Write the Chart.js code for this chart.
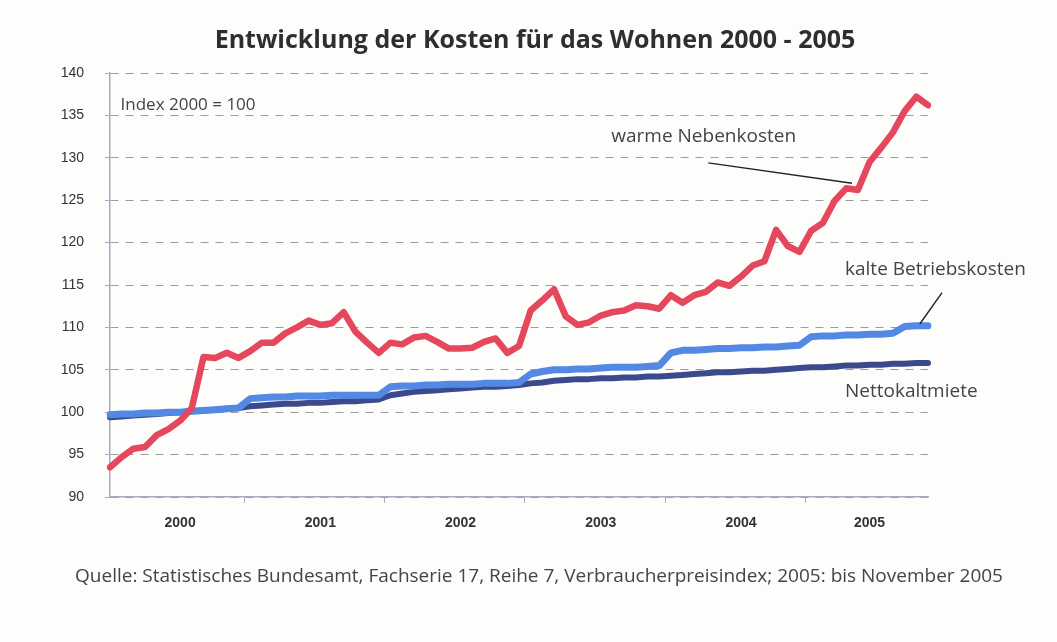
<!DOCTYPE html>
<html>
<head>
<meta charset="utf-8">
<title>Entwicklung der Kosten für das Wohnen 2000 - 2005</title>
<script src="https://cdn.jsdelivr.net/npm/chart.js@4.4.1/dist/chart.umd.min.js"></script>
<style>
html, body { margin: 0; padding: 0; background: #ffffff; }
#wrap { width: 1057px; height: 642px; }
</style>
</head>
<body>
<div id="wrap"><canvas id="myChart" width="1057" height="642"></canvas></div>
<script>
// monthly values, Jan 2000 - Nov 2005 (Index 2000 = 100)
const years = ["2000", "2001", "2002", "2003", "2004", "2005"];
const monthsPerYear = [12, 12, 12, 12, 12, 11];
const months = ["01", "02", "03", "04", "05", "06", "07", "08", "09", "10", "11", "12"];

const warmeNebenkosten = [
    93.5, 94.7, 95.7, 95.9, 97.3, 98.0, 99.0, 100.5, 106.5, 106.4, 107.0, 106.4,
    107.2, 108.2, 108.2, 109.3, 110.0, 110.8, 110.3, 110.5, 111.8, 109.5, 108.2, 107.0,
    108.2, 108.0, 108.8, 109.0, 108.3, 107.5, 107.5, 107.6, 108.3, 108.7, 107.0, 107.8,
    112.0, 113.2, 114.5, 111.3, 110.3, 110.6, 111.4, 111.8, 112.0, 112.6, 112.5, 112.2,
    113.8, 112.9, 113.8, 114.2, 115.3, 114.9, 116.0, 117.3, 117.8, 121.5, 119.6, 118.9,
    121.4, 122.3, 124.9, 126.4, 126.2, 129.5, 131.2, 133.0, 135.5, 137.2, 136.2
];
const kalteBetriebskosten = [
    99.7, 99.8, 99.8, 99.9, 99.9, 100.0, 100.0, 100.1, 100.2, 100.3, 100.4, 100.5,
    101.6, 101.7, 101.8, 101.8, 101.9, 101.9, 101.9, 102.0, 102.0, 102.0, 102.0, 102.0,
    103.0, 103.1, 103.1, 103.2, 103.2, 103.3, 103.3, 103.3, 103.4, 103.4, 103.4, 103.5,
    104.5, 104.8, 105.0, 105.0, 105.1, 105.1, 105.2, 105.3, 105.3, 105.3, 105.4, 105.5,
    107.0, 107.3, 107.3, 107.4, 107.5, 107.5, 107.6, 107.6, 107.7, 107.7, 107.8, 107.9,
    108.9, 109.0, 109.0, 109.1, 109.1, 109.2, 109.2, 109.3, 110.1, 110.2, 110.2
];
const nettokaltmiete = [
    99.4, 99.5, 99.6, 99.7, 99.8, 99.9, 100.0, 100.1, 100.2, 100.3, 100.4, 100.5,
    100.7, 100.8, 100.9, 101.0, 101.0, 101.1, 101.1, 101.2, 101.3, 101.3, 101.4, 101.5,
    102.0, 102.2, 102.4, 102.5, 102.6, 102.7, 102.8, 102.9, 103.0, 103.0, 103.1, 103.2,
    103.4, 103.5, 103.7, 103.8, 103.9, 103.9, 104.0, 104.0, 104.1, 104.1, 104.2, 104.2,
    104.3, 104.4, 104.5, 104.6, 104.7, 104.7, 104.8, 104.9, 104.9, 105.0, 105.1, 105.2,
    105.3, 105.3, 105.4, 105.5, 105.5, 105.6, 105.6, 105.7, 105.7, 105.8, 105.8
];

const yMin = 90;
const yMax = 140;
const yStep = 5;

const titleText = "Entwicklung der Kosten für das Wohnen 2000 - 2005";
const sourceText = "Quelle: Statistisches Bundesamt, Fachserie 17, Reihe 7, Verbraucherpreisindex; 2005: bis November 2005";

// build month labels + where each year label sits (middle of its months)
const labels = [];
const yearLabelAt = {};
years.forEach((y, k) => {
    yearLabelAt[labels.length + Math.floor(monthsPerYear[k] / 2)] = y;
    for (let m = 0; m < monthsPerYear[k]; m++) {
        labels.push(y + "-" + months[m]);
    }
});

const axisColor = "#a9a9bf";
const textFont = "'Open Sans', 'DejaVu Sans', sans-serif";

// title, source and the line annotations
const textPlugin = {
    id: "texts",
    beforeDraw(chart) {
        const ctx = chart.ctx;
        ctx.save();
        ctx.fillStyle = "#fdfdfb";
        ctx.fillRect(0, 0, chart.width, chart.height);
        ctx.restore();
    },
    afterDraw(chart) {
        const ctx = chart.ctx;
        const x = chart.scales.x;
        const y = chart.scales.y;
        const px = i => x.getPixelForValue(i);
        const py = v => y.getPixelForValue(v);

        ctx.save();
        ctx.textBaseline = "middle";

        ctx.fillStyle = "#2e2e2e";
        ctx.font = "bold 25px " + textFont;
        ctx.textAlign = "center";
        ctx.fillText(titleText, 535, 41);

        ctx.fillStyle = "#444";
        ctx.font = "19px " + textFont;
        ctx.fillText(sourceText, 539, 577);

        ctx.textAlign = "left";
        ctx.font = "17px " + textFont;
        ctx.fillText("Index 2000 = 100", px(0.9), py(136.2));

        ctx.font = "19px " + textFont;
        ctx.fillText("warme Nebenkosten", px(42.9), py(132.5));
        ctx.fillText("kalte Betriebskosten", px(62.9), py(116.8));
        ctx.fillText("Nettokaltmiete", px(62.9), py(102.4));

        ctx.strokeStyle = "#222";
        ctx.lineWidth = 1.4;
        ctx.beginPath();
        ctx.moveTo(px(51.2), py(129.4));
        ctx.lineTo(px(63.5), py(127.0));
        ctx.moveTo(px(71.2), py(114.1));
        ctx.lineTo(px(69.3), py(110.4));
        ctx.stroke();
        ctx.restore();
    }
};

const ctx = document.getElementById("myChart").getContext("2d");

new Chart(ctx, {
    type: "line",
    data: {
        labels: labels,
        datasets: [
            {
                label: "warme Nebenkosten",
                data: warmeNebenkosten,
                borderColor: "#e5475c",
                borderWidth: 6.5,
                order: 0
            },
            {
                label: "kalte Betriebskosten",
                data: kalteBetriebskosten,
                borderColor: "#5389e4",
                borderWidth: 7,
                order: 1
            },
            {
                label: "Nettokaltmiete",
                data: nettokaltmiete,
                borderColor: "#3b4a8c",
                borderWidth: 6,
                order: 2
            }
        ]
    },
    options: {
        responsive: false,
        animation: false,
        events: [],
        elements: {
            point: { radius: 0 },
            line: { tension: 0, borderJoinStyle: "round", borderCapStyle: "round", fill: false }
        },
        layout: {
            padding: { top: 73, right: 129, bottom: 105, left: 0 }
        },
        plugins: {
            legend: { display: false },
            tooltip: { enabled: false },
            title: { display: false }
        },
        scales: {
            x: {
                type: "category",
                offset: false,
                afterFit: s => { s.height = 40; },
                border: { color: axisColor, width: 1.5 },
                grid: {
                    drawOnChartArea: false,
                    offset: true,
                    tickLength: 6,
                    color: c => (c.index % 12 === 0 ? axisColor : "rgba(0,0,0,0)")
                },
                ticks: {
                    autoSkip: false,
                    maxRotation: 0,
                    padding: 12,
                    color: "#333",
                    font: { family: "'Liberation Sans', Arial, sans-serif", size: 14, weight: "bold" },
                    callback: (val, i) => yearLabelAt[i] || ""
                }
            },
            y: {
                min: yMin,
                max: yMax,
                afterFit: s => { s.width = 110; },
                border: { color: axisColor, width: 1.5, dash: [8, 7] },
                grid: {
                    color: "#9c9c9c",
                    lineWidth: 1,
                    tickLength: 5,
                    tickColor: axisColor
                },
                ticks: {
                    stepSize: yStep,
                    padding: 21,
                    color: "#333",
                    font: { family: "'Liberation Sans', Arial, sans-serif", size: 14 }
                }
            }
        }
    },
    plugins: [textPlugin]
});
</script>
</body>
</html>
